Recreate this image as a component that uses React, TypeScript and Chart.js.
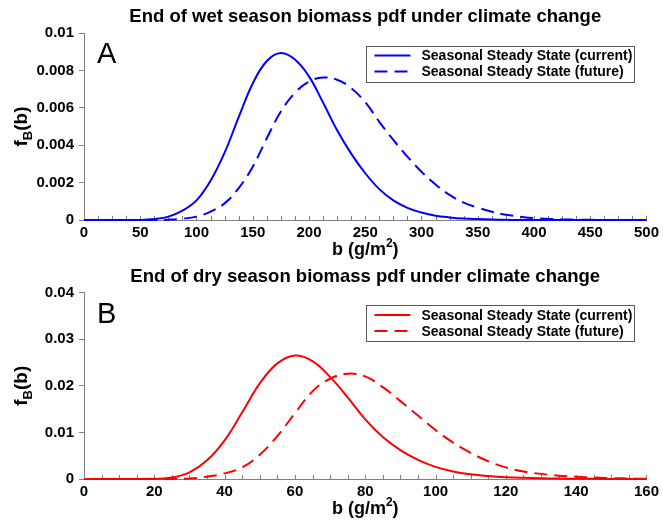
import React, { useEffect, useRef } from "react";
import { Chart, registerables } from "chart.js";

Chart.register(...registerables);

// ---------- data ----------
const wetTitle = "End of wet season biomass pdf under climate change";
const dryTitle = "End of dry season biomass pdf under climate change";
const seriesLabels = ["Seasonal Steady State (current)", "Seasonal Steady State (future)"];

const wetB = [
  0, 12.5, 25, 37.5, 50, 62.5, 75, 87.5, 100, 112.5, 125, 137.5, 150, 162.5, 175, 187.5, 200,
  212.5, 225, 237.5, 250, 262.5, 275, 287.5, 300, 312.5, 325, 337.5, 350, 362.5, 375, 387.5,
  400, 412.5, 425, 437.5, 450, 462.5, 475, 487.5, 500,
];
const wetCurrent = [
  0, 0, 0, 0, 0, 0.00005, 0.00018, 0.0005, 0.00105, 0.0021, 0.0036, 0.0055, 0.0073, 0.0085,
  0.00893, 0.00858, 0.00768, 0.00628, 0.0048, 0.00355, 0.0025, 0.00165, 0.00105, 0.00065,
  0.0004, 0.00023, 0.00014, 0.00008, 0.00005, 0.00003, 0.00001, 0, 0, 0, 0, 0, 0, 0, 0, 0, 0,
];
const wetFuture = [
  0, 0, 0, 0, 0, 0, 0.00002, 0.00007, 0.00018, 0.00045, 0.00089, 0.0017, 0.00285, 0.00437,
  0.0058, 0.0068, 0.0074, 0.00762, 0.0075, 0.00705, 0.0063, 0.00525, 0.00428, 0.00339, 0.00258,
  0.0019, 0.00134, 0.00093, 0.00066, 0.00044, 0.00028, 0.00018, 0.0001, 0.00006, 0.00003,
  0.00002, 0.00001, 0, 0, 0, 0,
];

const dryB = [
  0, 5, 10, 15, 20, 25, 30, 35, 40, 45, 50, 55, 60, 65, 70, 75, 80, 85, 90, 95, 100, 105, 110,
  115, 120, 125, 130, 135, 140, 145, 150, 155, 160,
];
const dryCurrent = [
  0, 0, 0, 0, 0.00003, 0.0003, 0.0014, 0.004, 0.0083, 0.0143, 0.0205, 0.0248, 0.0265, 0.0253,
  0.0219, 0.0175, 0.0128, 0.009, 0.0062, 0.0041, 0.0026, 0.0016, 0.001, 0.00065, 0.0004,
  0.00025, 0.00015, 0.0001, 0.00005, 0.00003, 0.00001, 0, 0,
];
const dryFuture = [
  0, 0, 0, 0, 0, 0.00002, 0.0001, 0.0005, 0.0012, 0.0025, 0.0052, 0.0092, 0.0141, 0.0188,
  0.0215, 0.0226, 0.022, 0.0197, 0.0167, 0.0136, 0.0105, 0.0078, 0.0056, 0.0038, 0.0025,
  0.0016, 0.0011, 0.0007, 0.0005, 0.0003, 0.0002, 0.0001, 0.00005,
];

// axis settings
const wetXMax = 500;
const wetXStep = 50;
const wetXMinor = 12.5;
const wetYMax = 0.01;
const wetYStep = 0.002;
const dryXMax = 160;
const dryXStep = 20;
const dryXMinor = 5;
const dryYMax = 0.04;
const dryYStep = 0.01;

const FONT = "'Liberation Sans', Arial, Helvetica, sans-serif";
const AXIS_GRAY = "#808080";

type PanelProps = {
  width: number;
  height: number;
  title: string;
  letter: string;
  xs: number[];
  current: number[];
  future: number[];
  color: string;
  xMax: number;
  xStep: number;
  xMinor: number;
  yMax: number;
  yStep: number;
  topPad: number;
  xAxisHeight: number;
};

function Panel(p: PanelProps) {
  const ref = useRef<HTMLCanvasElement | null>(null);

  useEffect(() => {
    if (!ref.current) return;
    const toPts = (ys: number[]) => p.xs.map((x, i) => ({ x, y: ys[i] }));

    const decor = {
      id: "decor",
      beforeDatasetsDraw(chart: any) {
        const { ctx, chartArea } = chart;
        const xs = chart.scales.x;
        ctx.save();
        ctx.strokeStyle = AXIS_GRAY;
        ctx.lineWidth = 1;
        for (let v = 0; v <= p.xMax + 1e-9; v += p.xMinor) {
          const px = Math.round(xs.getPixelForValue(v)) + 0.5;
          ctx.beginPath();
          ctx.moveTo(px, chartArea.bottom);
          ctx.lineTo(px, chartArea.bottom - 4);
          ctx.stroke();
        }
        ctx.restore();
      },
      afterDraw(chart: any) {
        const { ctx, chartArea } = chart;
        const cx = (chartArea.left + chartArea.right) / 2;
        ctx.save();
        ctx.fillStyle = "#000";
        // title
        ctx.font = `bold 18.5px ${FONT}`;
        ctx.textAlign = "center";
        ctx.textBaseline = "middle";
        ctx.fillText(p.title, cx, chartArea.top - 16);

        // x axis title: b (g/m^2)
        ctx.textBaseline = "alphabetic";
        ctx.textAlign = "left";
        const big = `bold 18px ${FONT}`;
        const small = `bold 12px ${FONT}`;
        ctx.font = big;
        const t1 = "b (g/m";
        const t3 = ")";
        const w1 = ctx.measureText(t1).width;
        const w3 = ctx.measureText(t3).width;
        ctx.font = small;
        const w2 = ctx.measureText("2").width;
        const total = w1 + w2 + w3;
        const bx = cx - total / 2;
        const by = chartArea.bottom + 34.5;
        ctx.font = big;
        ctx.fillText(t1, bx, by);
        ctx.font = small;
        ctx.fillText("2", bx + w1, by - 8);
        ctx.font = big;
        ctx.fillText(t3, bx + w1 + w2, by);

        // y axis title: f_B(b)
        const cy = (chartArea.top + chartArea.bottom) / 2;
        const bigY = `bold 19px ${FONT}`;
        const smallY = `bold 13px ${FONT}`;
        ctx.save();
        ctx.translate(27, cy);
        ctx.rotate(-Math.PI / 2);
        ctx.font = bigY;
        const wf = ctx.measureText("f").width;
        const wb = ctx.measureText("(b)").width;
        ctx.font = smallY;
        const wB = ctx.measureText("B").width;
        const tot = wf + wB + wb;
        let sx = -tot / 2;
        ctx.font = bigY;
        ctx.fillText("f", sx, 0);
        sx += wf;
        ctx.font = smallY;
        ctx.fillText("B", sx, 5);
        sx += wB;
        ctx.font = bigY;
        ctx.fillText("(b)", sx, 0);
        ctx.restore();

        // panel letter
        ctx.font = `29px ${FONT}`;
        ctx.textAlign = "left";
        ctx.textBaseline = "alphabetic";
        ctx.fillText(p.letter, chartArea.left + 13, chartArea.top + 30);

        // legend
        const lw = 268;
        const lh = 36;
        const lx = chartArea.right - 12 - lw;
        const ly = chartArea.top + 12.5;
        ctx.fillStyle = "#fff";
        ctx.fillRect(lx, ly, lw, lh);
        ctx.strokeStyle = "#5a5a5a";
        ctx.lineWidth = 1;
        ctx.strokeRect(Math.round(lx) + 0.5, Math.round(ly) + 0.5, lw, lh);
        chart.data.datasets.forEach((ds: any, i: number) => {
          const rowY = ly + 10 + i * 16;
          ctx.save();
          ctx.strokeStyle = ds.borderColor;
          ctx.lineWidth = 2;
          ctx.setLineDash(ds.borderDash || []);
          ctx.beginPath();
          ctx.moveTo(lx + 8, rowY);
          ctx.lineTo(lx + 44, rowY);
          ctx.stroke();
          ctx.restore();
          ctx.fillStyle = "#000";
          ctx.font = `bold 14px ${FONT}`;
          ctx.textBaseline = "middle";
          ctx.fillText(ds.label, lx + 55, rowY + 1);
        });
        ctx.restore();
      },
    };

    const tickFont = { family: FONT, size: 15, weight: "bold" as const };
    const chart = new Chart(ref.current, {
      type: "line",
      data: {
        datasets: [
          {
            label: seriesLabels[0],
            data: toPts(p.current),
            borderColor: p.color,
            borderWidth: 2,
            pointRadius: 0,
            tension: 0.4,
            fill: false,
            clip: 4,
          },
          {
            label: seriesLabels[1],
            data: toPts(p.future),
            borderColor: p.color,
            borderWidth: 2,
            borderDash: [13, 7],
            pointRadius: 0,
            tension: 0.4,
            fill: false,
            clip: 4,
          },
        ],
      },
      options: {
        animation: false,
        responsive: false,
        maintainAspectRatio: false,
        layout: { padding: { left: 0, right: 15, top: p.topPad, bottom: 0 } },
        plugins: {
          legend: { display: false },
          tooltip: { enabled: false },
          title: { display: false },
        },
        scales: {
          x: {
            type: "linear",
            min: 0,
            max: p.xMax,
            afterFit: (s: any) => {
              s.height = p.xAxisHeight;
            },
            ticks: {
              stepSize: p.xStep,
              font: tickFont,
              color: "#000",
              padding: 4,
              maxRotation: 0,
              autoSkip: false,
              callback: (v: any) => String(v),
            },
            grid: { display: false, drawTicks: false },
            border: { display: true, color: AXIS_GRAY, width: 1 },
          },
          y: {
            type: "linear",
            min: 0,
            max: p.yMax,
            afterFit: (s: any) => {
              s.width = 84;
            },
            ticks: {
              stepSize: p.yStep,
              font: tickFont,
              color: "#000",
              padding: 5,
              callback: (v: any) => String(Number(Number(v).toFixed(6))),
            },
            grid: {
              display: true,
              drawOnChartArea: false,
              drawTicks: true,
              tickLength: 5,
              color: AXIS_GRAY,
            },
            border: { display: true, color: AXIS_GRAY, width: 1 },
          },
        },
      },
      plugins: [decor],
    } as any);
    return () => chart.destroy();
  }, []);

  return (
    <canvas
      ref={ref}
      width={p.width}
      height={p.height}
      style={{ display: "block", width: p.width, height: p.height }}
    />
  );
}

export default function App() {
  return (
    <div style={{ position: "absolute", left: 0, top: 0, width: 663, height: 523, background: "#fff" }}>
      <Panel
        width={663}
        height={260}
        title={wetTitle}
        letter="A"
        xs={wetB}
        current={wetCurrent}
        future={wetFuture}
        color="#0000ff"
        xMax={wetXMax}
        xStep={wetXStep}
        xMinor={wetXMinor}
        yMax={wetYMax}
        yStep={wetYStep}
        topPad={33}
        xAxisHeight={40}
      />
      <Panel
        width={663}
        height={263}
        title={dryTitle}
        letter="B"
        xs={dryB}
        current={dryCurrent}
        future={dryFuture}
        color="#ff0000"
        xMax={dryXMax}
        xStep={dryXStep}
        xMinor={dryXMinor}
        yMax={dryYMax}
        yStep={dryYStep}
        topPad={32.5}
        xAxisHeight={44}
      />
    </div>
  );
}
